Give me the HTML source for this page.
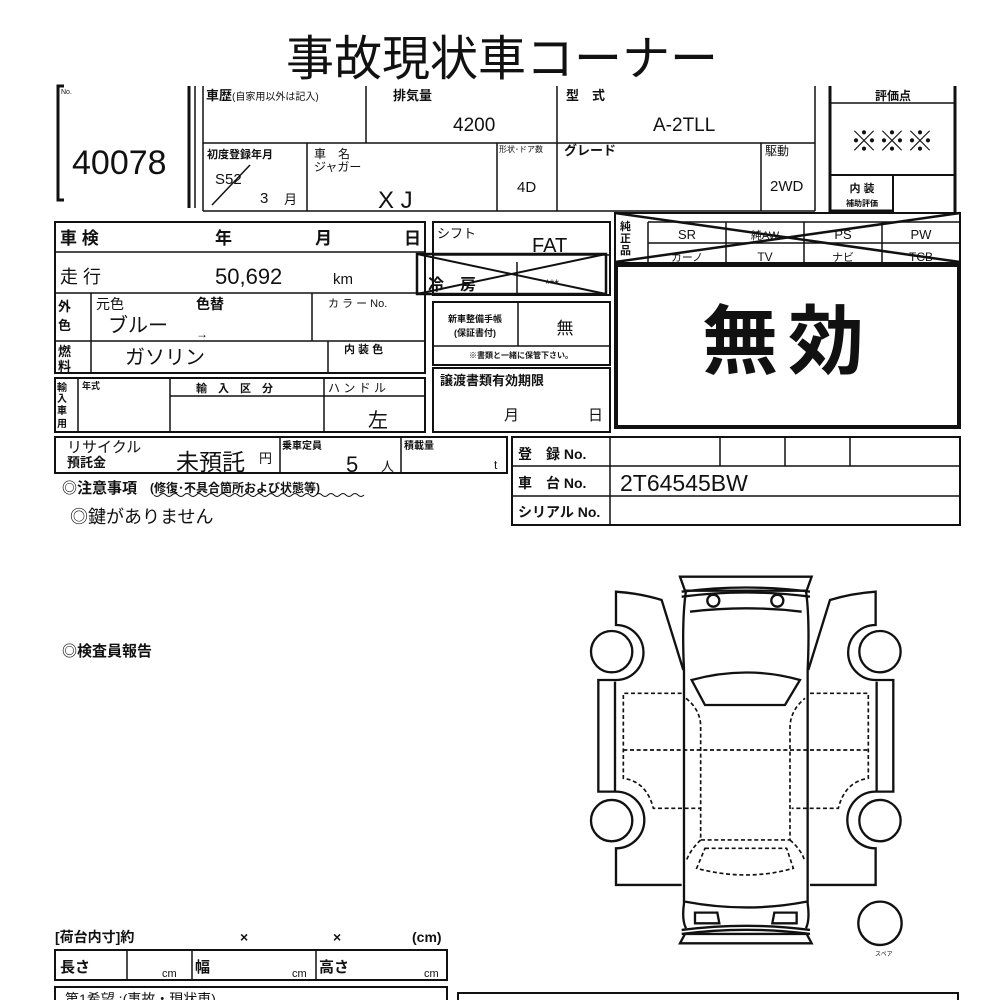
<!DOCTYPE html>
<html><head><meta charset="utf-8"><style>
html,body{margin:0;padding:0;background:#fff;width:1000px;height:1000px;overflow:hidden}
svg text{font-family:"Liberation Sans","Noto Sans CJK JP",sans-serif;fill:#111}
.b{font-weight:bold}
</style></head><body>
<svg width="1000" height="1000" viewBox="0 0 1000 1000" xmlns="http://www.w3.org/2000/svg">
<g fill="none" stroke="#111" stroke-width="1.5">
<!-- title -->
</g>
<text x="502" y="75" font-size="48" text-anchor="middle">事故現状車コーナー</text>

<!-- left bracket & number -->
<g fill="none" stroke="#111">
<path d="M64,86 L58,86 L58,200 L64,200" stroke-width="3"/>
<line x1="189" y1="86" x2="189" y2="208" stroke-width="3"/>
<line x1="195" y1="86" x2="195" y2="208" stroke-width="1.5"/>
</g>
<text x="61" y="94" font-size="7">No.</text>
<text x="72" y="174" font-size="34">40078</text>

<!-- top block -->
<g fill="none" stroke="#111" stroke-width="1.5">
<line x1="203" y1="86" x2="203" y2="211"/>
<line x1="203" y1="211" x2="815" y2="211"/>
<line x1="203" y1="143" x2="815" y2="143"/>
<line x1="366" y1="86" x2="366" y2="143"/>
<line x1="557" y1="86" x2="557" y2="211"/>
<line x1="815" y1="86" x2="815" y2="211"/>
<line x1="307" y1="143" x2="307" y2="211"/>
<line x1="497" y1="143" x2="497" y2="211"/>
<line x1="761" y1="143" x2="761" y2="211"/>
<line x1="212" y1="205" x2="250" y2="165"/>
<!-- 評価点 -->
<line x1="830" y1="86" x2="830" y2="212" stroke-width="3"/>
<line x1="955" y1="86" x2="955" y2="212" stroke-width="3"/>
<line x1="831" y1="103" x2="954" y2="103"/>
<line x1="831" y1="175" x2="954" y2="175" stroke-width="2"/>
<line x1="893" y1="175" x2="893" y2="212" stroke-width="2"/>
<line x1="830" y1="211" x2="893" y2="211" stroke-width="3"/>
</g>
<text x="206" y="100" font-size="13" class="b">車歴</text>
<text x="232" y="100" font-size="10">(自家用以外は記入)</text>
<text x="393" y="100" font-size="13" class="b">排気量</text>
<text x="453" y="131" font-size="19">4200</text>
<text x="566" y="100" font-size="13" class="b">型　式</text>
<text x="653" y="131" font-size="19">A-2TLL</text>
<text x="207" y="158" font-size="11" class="b">初度登録年月</text>
<text x="215" y="184" font-size="15">S52</text>
<text x="260" y="203" font-size="15">3</text>
<text x="284" y="204" font-size="13">月</text>
<text x="314" y="158" font-size="12">車　名</text>
<text x="314" y="171" font-size="12">ジャガー</text>
<text x="378" y="208" font-size="24">X J</text>
<text x="499" y="152" font-size="8">形状･ドア数</text>
<text x="517" y="192" font-size="15">4D</text>
<text x="564" y="155" font-size="13" class="b">グレード</text>
<text x="765" y="155" font-size="12">駆動</text>
<text x="770" y="191" font-size="15">2WD</text>
<text x="893" y="100" font-size="12" class="b" text-anchor="middle">評価点</text>
<text x="892" y="151" font-size="28" text-anchor="middle">※※※</text>
<text x="862" y="192" font-size="11" class="b" text-anchor="middle">内 装</text>
<text x="862" y="206" font-size="8" class="b" text-anchor="middle">補助評価</text>

<!-- left table -->
<g fill="none" stroke="#111" stroke-width="1.5">
<rect x="55" y="222" width="370" height="151" stroke-width="2"/>
<line x1="55" y1="252" x2="425" y2="252"/>
<line x1="55" y1="293" x2="425" y2="293"/>
<line x1="55" y1="341" x2="425" y2="341"/>
<line x1="91" y1="293" x2="91" y2="373"/>
<line x1="312" y1="293" x2="312" y2="341"/>
<line x1="328" y1="341" x2="328" y2="373"/>
<rect x="55" y="378" width="370" height="54" stroke-width="2"/>
<line x1="170" y1="378" x2="170" y2="432"/>
<line x1="170" y1="396" x2="425" y2="396"/>
<line x1="324" y1="378" x2="324" y2="432"/>
<line x1="78" y1="378" x2="78" y2="432"/>
<!-- right-of table -->
<rect x="433" y="222" width="177" height="73" stroke-width="2"/>
<line x1="433" y1="255" x2="610" y2="255"/>
<rect x="417" y="254" width="189" height="40" stroke-width="2.5"/>
<line x1="417" y1="254" x2="606" y2="294" stroke-width="2"/>
<line x1="417" y1="294" x2="606" y2="254" stroke-width="2"/>
<line x1="517" y1="262" x2="517" y2="295"/>
<rect x="433" y="302" width="177" height="63" stroke-width="2"/>
<line x1="433" y1="346" x2="610" y2="346"/>
<line x1="518" y1="302" x2="518" y2="346"/>
<rect x="433" y="368" width="177" height="64" stroke-width="2"/>
<!-- equipment & 無効 -->
<rect x="615" y="213" width="345" height="50" stroke-width="2"/>
<line x1="648" y1="222" x2="648" y2="262"/>
<line x1="648" y1="222" x2="960" y2="222"/>
<line x1="648" y1="243" x2="960" y2="243"/>
<line x1="726" y1="222" x2="726" y2="262"/>
<line x1="804" y1="222" x2="804" y2="262"/>
<line x1="882" y1="222" x2="882" y2="262"/>
<line x1="615" y1="213" x2="960" y2="262" stroke-width="2.5"/>
<line x1="615" y1="262" x2="960" y2="213" stroke-width="2.5"/>
<rect x="616" y="265" width="343" height="162" stroke-width="4"/>
<!-- recycle row -->
<rect x="55" y="437" width="452" height="36" stroke-width="2"/>
<line x1="280" y1="437" x2="280" y2="473"/>
<line x1="401" y1="437" x2="401" y2="473"/>
<rect x="512" y="437" width="448" height="88" stroke-width="2"/>
<line x1="512" y1="466" x2="960" y2="466"/>
<line x1="512" y1="496" x2="960" y2="496"/>
<line x1="610" y1="437" x2="610" y2="525"/>
<line x1="720" y1="437" x2="720" y2="466"/>
<line x1="785" y1="437" x2="785" y2="466"/>
<line x1="850" y1="437" x2="850" y2="466"/>
<path d="M154,495 q3,3 6,0 t6,0 t6,0 t6,0 t6,0 t6,0 t6,0 t6,0 t6,0 t6,0 t6,0 t6,0 t6,0 t6,0 t6,0 t6,0 t6,0 t6,0 t6,0 t6,0 t6,0 t6,0 t6,0 t6,0 t6,0 t6,0 t6,0 t6,0 t6,0 t6,0 t6,0 t6,0 t6,0 t6,0 t6,0" stroke-width="1"/>
<!-- bottom boxes -->
<rect x="55" y="950" width="392" height="30" stroke-width="2"/>
<line x1="127" y1="950" x2="127" y2="980"/>
<line x1="192" y1="950" x2="192" y2="980"/>
<line x1="316" y1="950" x2="316" y2="980"/>
<rect x="55" y="987" width="392" height="30" stroke-width="2"/>
<rect x="458" y="993" width="500" height="30" stroke-width="2"/>
</g>
<text x="60" y="244" font-size="17" class="b">車 検</text>
<text x="215" y="244" font-size="17" class="b">年</text>
<text x="315" y="244" font-size="17" class="b">月</text>
<text x="404" y="244" font-size="17" class="b">日</text>
<text x="60" y="283" font-size="18">走 行</text>
<text x="215" y="284" font-size="22">50,692</text>
<text x="333" y="284" font-size="15">km</text>
<text x="58" y="311" font-size="13" class="b">外</text>
<text x="58" y="330" font-size="13" class="b">色</text>
<text x="96" y="309" font-size="14">元色</text>
<text x="196" y="309" font-size="14" class="b">色替</text>
<text x="108" y="332" font-size="20">ブルー</text>
<text x="196" y="338" font-size="12">→</text>
<text x="328" y="307" font-size="11">カ ラ ー No.</text>
<text x="58" y="356" font-size="13" class="b">燃</text>
<text x="58" y="371" font-size="13" class="b">料</text>
<text x="125" y="364" font-size="20">ガソリン</text>
<text x="344" y="353" font-size="11" class="b">内 装 色</text>
<text x="57" y="391" font-size="10" class="b">輸</text>
<text x="57" y="402" font-size="10" class="b">入</text>
<text x="57" y="414" font-size="10" class="b">車</text>
<text x="57" y="427" font-size="10" class="b">用</text>
<text x="82" y="389" font-size="9" class="b">年式</text>
<text x="196" y="392" font-size="11" class="b">輸　入　区　分</text>
<text x="328" y="392" font-size="12">ハ ン ド ル</text>
<text x="368" y="427" font-size="20">左</text>
<text x="437" y="238" font-size="13">シフト</text>
<text x="532" y="252" font-size="20">FAT</text>
<text x="428" y="290" font-size="16" class="b">冷　房</text>
<text x="545" y="288" font-size="12">***</text>
<text x="475" y="322" font-size="9" class="b" text-anchor="middle">新車整備手帳</text>
<text x="475" y="336" font-size="9" class="b" text-anchor="middle">(保証書付)</text>
<text x="565" y="334" font-size="17" text-anchor="middle">無</text>
<text x="521" y="358" font-size="8" class="b" text-anchor="middle">※書類と一緒に保管下さい。</text>
<text x="440" y="385" font-size="13" class="b">譲渡書類有効期限</text>
<text x="504" y="420" font-size="15">月</text>
<text x="588" y="420" font-size="15">日</text>
<text x="620" y="230" font-size="11" class="b">純</text>
<text x="620" y="242" font-size="11" class="b">正</text>
<text x="620" y="254" font-size="11" class="b">品</text>
<text x="687" y="239" font-size="13" text-anchor="middle">SR</text>
<text x="765" y="239" font-size="11" text-anchor="middle">純AW</text>
<text x="843" y="239" font-size="13" text-anchor="middle">PS</text>
<text x="921" y="239" font-size="13" text-anchor="middle">PW</text>
<text x="687" y="261" font-size="11" text-anchor="middle">カーノ</text>
<text x="765" y="261" font-size="12" text-anchor="middle">TV</text>
<text x="843" y="261" font-size="11" text-anchor="middle">ナビ</text>
<text x="921" y="261" font-size="12" text-anchor="middle">TCB</text>
<text x="788" y="368" font-size="76" class="b" text-anchor="middle" letter-spacing="10">無効</text>
<text x="67" y="452" font-size="15">リサイクル</text>
<text x="67" y="467" font-size="13" class="b">預託金</text>
<text x="176" y="470" font-size="23">未預託</text>
<text x="259" y="463" font-size="13">円</text>
<text x="282" y="449" font-size="10" class="b">乗車定員</text>
<text x="346" y="472" font-size="22">5</text>
<text x="381" y="471" font-size="13">人</text>
<text x="404" y="449" font-size="10" class="b">積載量</text>
<text x="494" y="469" font-size="12">t</text>
<text x="518" y="459" font-size="14" class="b">登　録 No.</text>
<text x="518" y="488" font-size="14" class="b">車　台 No.</text>
<text x="518" y="517" font-size="14" class="b">シリアル No.</text>
<text x="620" y="491" font-size="23">2T64545BW</text>
<text x="62" y="493" font-size="15" class="b">◎注意事項</text>
<text x="150" y="492" font-size="12" class="b">(修復･不具合箇所および状態等)</text>
<text x="70" y="523" font-size="18">◎鍵がありません</text>
<text x="62" y="656" font-size="15" class="b">◎検査員報告</text>
<text x="55" y="942" font-size="14" class="b">[荷台内寸]約</text>
<text x="240" y="942" font-size="14" class="b">×</text>
<text x="333" y="942" font-size="14" class="b">×</text>
<text x="412" y="942" font-size="14" class="b">(cm)</text>
<text x="60" y="972" font-size="15" class="b">長さ</text>
<text x="162" y="977" font-size="11">cm</text>
<text x="195" y="972" font-size="15" class="b">幅</text>
<text x="292" y="977" font-size="11">cm</text>
<text x="319" y="972" font-size="15" class="b">高さ</text>
<text x="424" y="977" font-size="11">cm</text>
<text x="65" y="1004" font-size="14">第1希望 :(事故・現状車)</text>

<!-- car diagram -->
<g transform="translate(580,570) scale(0.3333)" fill="none" stroke="#111" stroke-width="7">
<path d="M300,20 L695,20 L680,62 L315,62 Z"/>
<path d="M305,80 Q500,55 690,80 M305,65 Q500,40 690,65"/>
<circle cx="400" cy="92" r="18"/><circle cx="592" cy="92" r="18"/>
<path d="M330,125 Q500,105 665,125"/>
<path d="M318,62 Q305,150 312,300 L312,1000 Q305,1050 318,1075 M678,62 Q690,150 683,300 L683,1000 Q690,1050 678,1075"/>
<path d="M335,330 Q500,285 660,330 L615,405 L375,405 Z"/>
<path d="M315,995 Q500,1030 680,995"/>
<path d="M345,1028 L412,1028 L418,1060 L345,1060 Z M650,1028 L583,1028 L577,1060 L650,1060 Z"/>
<path d="M305,1080 Q500,1055 690,1080 M305,1092 Q500,1067 690,1092"/>
<path d="M300,1120 L695,1120 L680,1092 L315,1092 Z"/>
<!-- left side -->
<path d="M310,300 L245,90 Q180,70 108,65 L108,165 A82,82 0 0 1 108,330 L55,330 L55,665 L108,665 A82,82 0 0 1 108,835 L108,945 L305,945"/>
<line x1="105" y1="335" x2="105" y2="665"/>
<circle cx="95" cy="245" r="62"/><circle cx="95" cy="752" r="62"/>
<!-- right side -->
<path d="M685,300 L750,90 Q815,70 887,65 L887,165 A82,82 0 0 0 887,330 L940,330 L940,665 L887,665 A82,82 0 0 0 887,835 L887,945 L690,945"/>
<line x1="890" y1="335" x2="890" y2="665"/>
<circle cx="900" cy="245" r="62"/><circle cx="900" cy="752" r="62"/>
<circle cx="900" cy="1060" r="65"/>
<g stroke-width="5" stroke-dasharray="12,8">
<path d="M305,370 L130,370 L130,625 Q200,635 220,715 L360,715"/>
<path d="M690,370 L865,370 L865,625 Q795,635 775,715 L635,715"/>
<path d="M130,540 L865,540"/>
<path d="M318,385 Q362,420 362,470 L362,810 L630,810 L630,470 Q632,420 675,385"/>
<path d="M362,810 Q330,840 318,875 M630,810 Q665,840 675,875"/>
<path d="M375,835 L620,835 L640,895 Q500,935 350,895 Z"/>
</g>
</g>
<text x="875" y="956" font-size="6">スペア</text>
</svg>
</body></html>
